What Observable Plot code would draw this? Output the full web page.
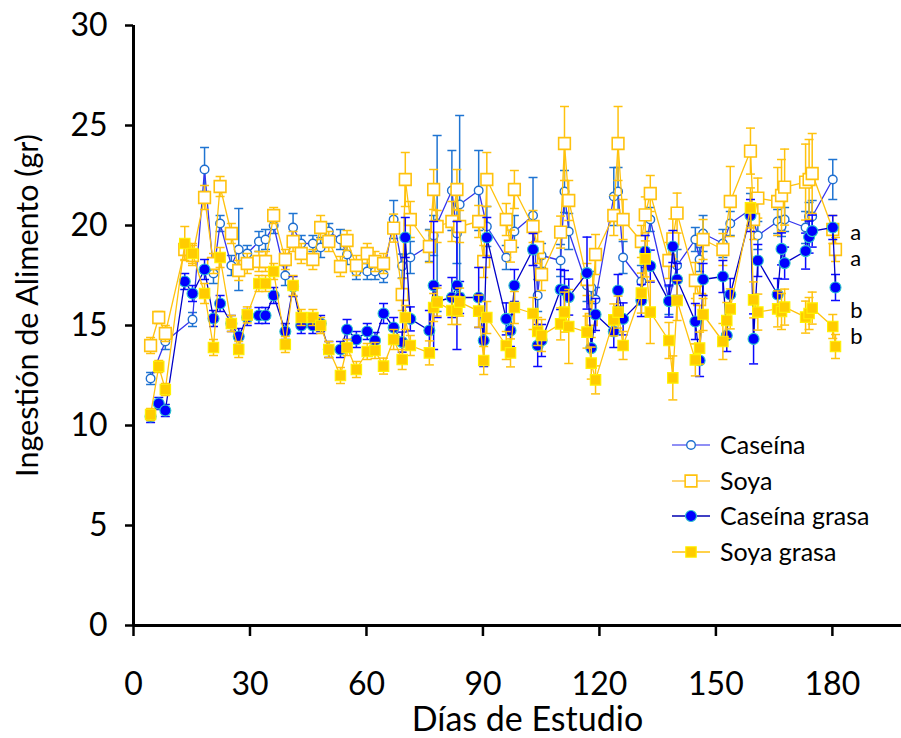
<!DOCTYPE html>
<html>
<head>
<meta charset="utf-8">
<script src="https://cdn.jsdelivr.net/npm/d3@7"></script>
<script src="https://cdn.jsdelivr.net/npm/@observablehq/plot@0.6"></script>
<style>
  body { margin: 0; background: #fff; }
  #wrap { position: relative; width: 901px; height: 738px; font-family: Lato, sans-serif; }
  #legend { position: absolute; left: 660px; top: 425px; }
</style>
</head>
<body>
<div id="wrap"></div>
<script>
// Days of study (x positions of the measurements)
const days = [4.4, 6.5, 8.2,
  13.2, 15.2,
  18.3, 20.6, 22.3,
  25.2, 27.1, 29.3,
  32.3, 34.0, 36.1,
  39.1, 41.1, 43.2,
  46.2, 48.2, 50.3,
  53.3, 55.0, 57.4,
  60.2, 62.2, 64.4,
  67.0, 69.2, 70.0, 71.3,
  76.2, 77.3, 78.2,
  82.0, 83.3, 84.0,
  88.9, 90.2, 91.0,
  96.0, 97.1, 98.1,
  102.9, 104.1, 105.1,
  110.0, 111.0, 112.1,
  116.8, 117.9, 119.0,
  123.7, 124.8, 126.1,
  130.8, 131.8, 133.1,
  137.9, 138.9, 140.0,
  144.7, 145.8, 146.7,
  151.8, 152.8, 153.7,
  158.9, 159.7, 160.8,
  165.9, 166.9, 167.7,
  173.1, 174.0, 174.8,
  180.1, 180.8];

const caseina = [12.35, null, 14.2,
  null, 15.3,
  22.8, 17.6, 20.1,
  18.0, 18.8, 18.6,
  19.2, 19.3, 20.0,
  17.5, 19.9, 19.1,
  19.1, 18.9, 19.7,
  19.3, 18.55, 17.7,
  17.7, 17.7, 17.55,
  20.3, 17.97, null, 18.4,
  19.0, 19.5, 20.1,
  21.75, 19.6, 21.05,
  21.75, null, 19.95,
  18.4, null, 19.7,
  20.5, 16.5, 18.5,
  18.25, 21.7, 19.7,
  17.0, 16.9, 16.3,
  21.45, 21.7, 18.4,
  17.2, null, 20.3,
  16.25, null, 18.0,
  19.3, 18.3, 19.6,
  19.1, null, 20.1,
  20.8, null, 19.5,
  20.2, 19.95, 20.3,
  19.9, 20.45, 20.45,
  22.3, null];
const caseinaErr = [0.3, null, 0.4,
  null, 0.35,
  1.1, 0.5, 0.4,
  0.5, 2.05, 0.4,
  0.5, 0.5, 0.4,
  0.5, 0.7, 0.4,
  0.4, 0.5, 0.4,
  0.5, 0.5, 0.4,
  0.4, 0.4, 0.4,
  0.95, 0.6, null, 0.8,
  0.8, 1.0, 4.4,
  2.0, 1.5, 4.45,
  2.0, null, 1.0,
  0.6, null, 0.8,
  1.9, 0.8, 0.6,
  0.8, 1.05, 0.9,
  0.8, 0.8, 0.6,
  1.45, 1.2, 0.8,
  0.8, null, 0.6,
  0.7, null, 0.8,
  0.6, 0.6, 0.9,
  0.7, null, 0.6,
  0.8, null, 0.7,
  0.6, 0.5, 0.6,
  0.8, 0.7, 0.8,
  1.0, null];

const soya = [14.0, 15.4, 14.6,
  18.8, 18.5,
  21.4, 18.1, 21.95,
  19.6, 17.75, 18.1,
  18.2, 18.2, 20.5,
  18.3, 19.2, 18.6,
  18.3, 19.9, 19.2,
  17.95, 19.25, 18.0,
  18.6, 18.2, 18.1,
  19.87, 16.55, 22.3, 20.3,
  18.95, 21.8, 19.95,
  20.2, 21.8, 19.95,
  20.2, 18.2, 22.3,
  20.3, 18.97, 21.8,
  19.95, 18.9, 17.55,
  19.67, 24.1, 21.25,
  17.3, 15.3, 18.55,
  20.5, 24.1, 20.3,
  19.2, 20.53, 21.6,
  18.25, 19.33, 20.62,
  17.25, 16.3, 19.3,
  18.8, null, 21.2,
  23.72, 20.3, 21.37,
  21.2, 21.5, 21.92,
  22.17, 22.3, 22.6,
  19.8, 18.8];
const soyaErr = [0.4, 0.3, 0.4,
  0.5, 0.5,
  0.6, 0.5, 0.5,
  0.5, 0.5, 0.5,
  0.5, 0.5, 0.4,
  0.5, 0.5, 0.5,
  0.5, 0.6, 0.5,
  0.5, 0.5, 0.5,
  0.5, 0.5, 0.5,
  0.7, 0.8, 1.35, 0.9,
  0.8, 1.0, 0.8,
  1.0, 1.0, 0.8,
  0.8, 0.8, 1.35,
  0.8, 0.8, 0.95,
  0.8, 0.8, 0.8,
  0.8, 1.85, 1.0,
  0.8, 0.9, 1.0,
  1.0, 1.85, 1.0,
  0.8, 0.9, 0.9,
  0.9, 1.0, 1.0,
  0.9, 1.0, 1.0,
  0.8, null, 1.75,
  1.15, 1.0, 1.0,
  1.7, 1.8, 1.9,
  1.9, 2.0, 2.0,
  0.7, 0.6];

const caseinaGrasa = [10.45, 11.1, 10.75,
  17.2, 16.6,
  17.8, 15.35, 16.1,
  15.1, 14.45, 15.4,
  15.5, 15.5, 16.5,
  14.7, 16.95, 15.0,
  15.0, 15.1, 13.8,
  13.8, 14.8, 14.3,
  14.7, 14.25, 15.6,
  14.9, 14.17, 19.4, 15.33,
  14.75, 17.0, 16.2,
  16.4, 17.0, 16.4,
  16.4, 14.25, 19.4,
  15.33, 14.75, 17.0,
  18.8, 14.0, 14.25,
  16.8, 16.75, 16.42,
  17.62, 13.87, 15.55,
  14.7, 16.75, 15.33,
  16.25, 18.7, 17.97,
  16.22, 18.95, 17.3,
  15.2, 13.25, 17.3,
  17.45, 14.5, 16.55,
  20.5, 14.33, 18.25,
  16.55, 18.83, 18.12,
  18.72, 19.42, 19.72,
  19.9, 16.9];
const caseinaGrasaErr = [0.3, 0.3, 0.3,
  0.4, 0.4,
  0.5, 0.4, 0.4,
  0.4, 0.4, 0.4,
  0.4, 0.4, 0.4,
  0.4, 0.5, 0.4,
  0.4, 0.4, 0.4,
  0.4, 0.5, 0.4,
  0.4, 0.4, 0.5,
  0.5, 0.5, 1.0, 0.6,
  1.0, 3.2, 0.8,
  1.0, 3.2, 0.8,
  1.5, 1.3, 1.0,
  0.8, 0.8, 0.8,
  0.8, 1.05, 0.8,
  1.0, 1.0, 0.9,
  1.8, 0.8, 0.8,
  0.8, 0.8, 0.8,
  0.8, 0.8, 0.8,
  0.8, 0.8, 0.8,
  0.9, 0.8, 0.8,
  0.8, 0.8, 0.8,
  0.8, 1.25, 0.8,
  0.8, 0.8, 0.8,
  0.9, 0.8, 0.8,
  0.6, 0.65];

const soyaGrasa = [10.55, 12.95, 11.8,
  19.1, 18.6,
  16.6, 13.9, 18.4,
  15.1, 13.8, 15.53,
  17.1, 17.1, 17.7,
  14.05, 17.0, 15.4,
  15.4, 15.0, 13.8,
  12.5, 13.9, 12.8,
  13.7, 13.75, 12.97,
  14.3, 13.3, 15.4, 14.0,
  13.63, 15.9, 16.17,
  15.75, 15.75, 16.17,
  15.72, 13.25, 15.4,
  14.0, 13.63, 15.9,
  15.6, 14.7, 14.5,
  15.08, 15.67, 14.95,
  14.67, 13.12, 12.28,
  15.28, 15.67, 14.0,
  16.62, 18.33, 15.67,
  14.25, 12.38, 16.25,
  13.28, 13.87, 15.55,
  14.2, 15.25, 15.83,
  20.88, 16.28, 15.67,
  15.83, 15.7, 15.92,
  15.42, 15.6, 15.87,
  14.95, 13.95];
const soyaGrasaErr = [0.3, 0.3, 0.3,
  0.85, 0.5,
  0.5, 0.4, 0.5,
  0.4, 0.4, 0.4,
  0.4, 0.4, 0.4,
  0.4, 0.5, 0.4,
  0.4, 0.4, 0.4,
  0.4, 0.4, 0.4,
  0.4, 0.4, 0.4,
  0.5, 0.5, 0.6, 0.5,
  0.6, 0.7, 0.7,
  0.7, 0.7, 0.7,
  0.8, 0.7, 0.8,
  0.7, 0.7, 0.8,
  0.8, 0.7, 0.8,
  0.8, 1.0, 1.85,
  0.8, 0.8, 0.7,
  0.8, 0.8, 0.7,
  1.0, 0.9, 1.57,
  0.9, 1.1, 1.0,
  0.8, 0.8, 0.8,
  0.9, 0.9, 1.0,
  1.0, 0.9, 0.9,
  0.9, 0.9, 0.9,
  0.8, 0.8, 0.8,
  0.6, 0.6];

const seriesNames = ["Caseína", "Soya", "Caseína grasa", "Soya grasa"];
const xTicks = [0, 30, 60, 90, 120, 150, 180];
const yTicks = [0, 5, 10, 15, 20, 25, 30];
const xLabel = "Días de Estudio";
const yLabel = "Ingestión de Alimento (gr)";
const letterLabels = ["a", "a", "b", "b"];
const letterValues = [19.65, 18.35, 15.75, 14.45];
const letterDay = 184.6;

// styles per series
const styles = [
  {line: "#3434ee", err: "#1f74d2", symbol: "circle", r: 4.3, fill: "white", stroke: "#1f6fcf", sw: 1.4},
  {line: "#ffc20e", err: "#ffc20e", symbol: "square", r: 6.6, fill: "white", stroke: "#ffc20e", sw: 1.6},
  {line: "#0000c8", err: "#0a0aff", symbol: "circle", r: 5.5, fill: "#0000ff", stroke: "#2cc6cc", sw: 1.1},
  {line: "#ffc20e", err: "#ffc20e", symbol: "square", r: 5.9, fill: "#ffcc00", stroke: "#fff200", sw: 1.1}
];

function rows(vals, errs) {
  const out = [];
  days.forEach((d, i) => { if (vals[i] != null) out.push({day: d, v: vals[i], e: errs[i]}); });
  return out;
}
const data = [rows(caseina, caseinaErr), rows(soya, soyaErr), rows(caseinaGrasa, caseinaGrasaErr), rows(soyaGrasa, soyaGrasaErr)];

const cap = { draw(ctx) { ctx.moveTo(-4.5, 0); ctx.lineTo(4.5, 0); } };

const seriesMarks = [];
data.forEach((rs, k) => {
  const s = styles[k];
  const withErr = rs.filter(d => d.e != null);
  seriesMarks.push(
    Plot.ruleX(withErr, {x: "day", y1: d => d.v - d.e, y2: d => d.v + d.e, stroke: s.err, strokeWidth: 1.5}),
    Plot.dot(withErr, {x: "day", y: d => d.v + d.e, symbol: cap, r: 4, stroke: s.err, strokeWidth: 1.5, fill: "none"}),
    Plot.dot(withErr, {x: "day", y: d => d.v - d.e, symbol: cap, r: 4, stroke: s.err, strokeWidth: 1.5, fill: "none"}),
    Plot.line(rs, {x: "day", y: "v", stroke: s.line, strokeWidth: 1.3}),
    Plot.dot(rs, {x: "day", y: "v", symbol: s.symbol, r: s.r, fill: s.fill, stroke: s.stroke, strokeWidth: s.sw})
  );
});

const chart = Plot.plot({
  width: 901,
  height: 738,
  marginLeft: 133,
  marginRight: 0,
  marginTop: 25,
  marginBottom: 113,
  style: {fontFamily: "Lato, sans-serif", color: "black", background: "white"},
  x: {domain: [0, 197.8]},
  y: {domain: [0, 30]},
  marks: [
    ...seriesMarks,
    Plot.text(letterLabels, {x: () => letterDay, y: (d, i) => letterValues[i], text: d => d, fontSize: 22, textAnchor: "start", fill: "black"}),
    Plot.ruleX([0], {stroke: "black", strokeWidth: 3}),
    Plot.ruleY([0], {stroke: "black", strokeWidth: 3}),
    Plot.axisY({ticks: yTicks, tickSize: 8, tickPadding: 18, strokeWidth: 2.5, fontSize: 32, label: null}),
    Plot.axisX({ticks: xTicks, tickSize: 11, tickPadding: 36, strokeWidth: 2.5, fontSize: 32, label: null}),
    Plot.text([xLabel], {frameAnchor: "bottom", textAnchor: "middle", dx: 10, dy: 95, lineAnchor: "middle", fontSize: 34, fill: "black"}),
    Plot.text([yLabel], {frameAnchor: "left", textAnchor: "middle", rotate: -90, dx: -105, dy: -20, lineAnchor: "middle", fontSize: 30.5, fill: "black"})
  ]
});

const wrap = document.getElementById("wrap");
wrap.appendChild(chart);

// Legend overlay
const legendRows = [20, 56, 91, 127];
const leg = d3.select(wrap).append("svg").attr("id", "legend").attr("width", 240).attr("height", 145);
const legendLine = ["#6a6af2", "#ffc84a", "#0000b0", "#ffc20e"];
seriesNames.forEach((name, k) => {
  const s = styles[k];
  const y = legendRows[k];
  const g = leg.append("g");
  g.append("line").attr("x1", 12).attr("x2", 50).attr("y1", y).attr("y2", y).attr("stroke", legendLine[k]).attr("stroke-width", 1.6);
  const sym = d3.symbol(s.symbol === "circle" ? d3.symbolCircle : d3.symbolSquare, Math.PI * s.r * s.r)();
  g.append("path").attr("d", sym).attr("transform", `translate(31,${y})`).attr("fill", s.fill).attr("stroke", s.stroke).attr("stroke-width", s.sw);
  g.append("text").attr("x", 60).attr("y", y).attr("dy", "0.35em").attr("font-size", 25).attr("font-family", "Lato, sans-serif").text(name);
});
</script>
</body>
</html>
